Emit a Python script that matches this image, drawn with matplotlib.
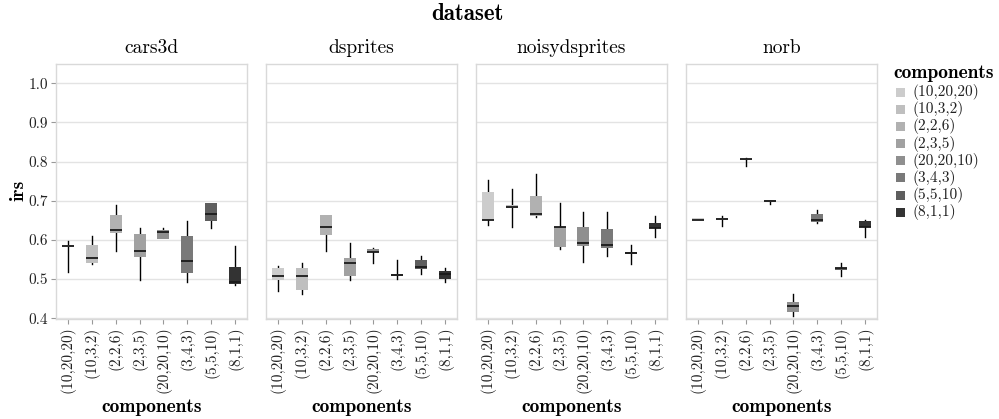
import matplotlib
matplotlib.use("Agg")
import matplotlib.pyplot as plt
from matplotlib.ticker import FormatStrFormatter

# ---------------- data ----------------
datasets = ["cars3d", "dsprites", "noisydsprites", "norb"]
components = ["(10,20,20)", "(10,3,2)", "(2,2,6)", "(2,3,5)",
              "(20,20,10)", "(3,4,3)", "(5,5,10)", "(8,1,1)"]
y_ticks = [0.4, 0.5, 0.6, 0.7, 0.8, 0.9, 1.0]

# (whisker low, q1, median, q3, whisker high) per component
cars3d_stats = [
    (0.518, 0.582, 0.584, 0.586, 0.598),
    (0.538, 0.541, 0.554, 0.586, 0.611),
    (0.571, 0.617, 0.626, 0.663, 0.689),
    (0.497, 0.556, 0.572, 0.614, 0.631),
    (0.601, 0.601, 0.621, 0.626, 0.631),
    (0.493, 0.515, 0.545, 0.611, 0.647),
    (0.630, 0.648, 0.665, 0.693, 0.693),
    (0.484, 0.487, 0.493, 0.532, 0.584),
]
dsprites_stats = [
    (0.469, 0.497, 0.508, 0.529, 0.534),
    (0.461, 0.472, 0.508, 0.527, 0.542),
    (0.571, 0.612, 0.633, 0.663, 0.664),
    (0.497, 0.507, 0.542, 0.553, 0.593),
    (0.541, 0.569, 0.570, 0.576, 0.580),
    (0.501, 0.508, 0.511, 0.514, 0.548),
    (0.513, 0.525, 0.531, 0.548, 0.560),
    (0.492, 0.500, 0.514, 0.520, 0.527),
]
noisydsprites_stats = [
    (0.638, 0.651, 0.651, 0.721, 0.753),
    (0.632, 0.681, 0.685, 0.690, 0.731),
    (0.658, 0.660, 0.666, 0.713, 0.768),
    (0.576, 0.581, 0.634, 0.634, 0.693),
    (0.543, 0.584, 0.591, 0.634, 0.671),
    (0.559, 0.579, 0.588, 0.629, 0.670),
    (0.539, 0.564, 0.567, 0.570, 0.588),
    (0.607, 0.630, 0.631, 0.642, 0.660),
]
norb_stats = [
    (0.651, 0.651, 0.651, 0.656, 0.656),
    (0.635, 0.652, 0.654, 0.656, 0.660),
    (0.789, 0.804, 0.806, 0.807, 0.809),
    (0.691, 0.697, 0.699, 0.701, 0.702),
    (0.406, 0.416, 0.431, 0.441, 0.463),
    (0.642, 0.645, 0.651, 0.665, 0.676),
    (0.508, 0.524, 0.527, 0.529, 0.542),
    (0.607, 0.633, 0.633, 0.649, 0.652),
]
all_stats = [cars3d_stats, dsprites_stats, noisydsprites_stats, norb_stats]

# ---------------- style ----------------
gamma = 2.2
s, e = 0.8 ** gamma, 0.2 ** gamma
greys = []
for i in range(len(components)):
    v = (s + (e - s) * i / (len(components) - 1)) ** (1 / gamma)
    greys.append((v, v, v))

REG = "cmr10"
BOLD = "cmb10"
plt.rcParams["axes.formatter.use_mathtext"] = True
plt.rcParams["font.family"] = REG

TICK_FS = 11
BOLD_FS = 14
TITLE_FS = 16.5

W, H = 999, 419
fig = plt.figure(figsize=(W / 100, H / 100), dpi=100)
fig.patch.set_facecolor("white")

panel_left = [56, 266, 476, 686]
panel_w = 191
panel_top = 64
panel_bottom = 319

border_col = "#d9d9d9"
grid_col = "#e3e3e3"
tick_col = "#999999"
text_col = "#222222"

positions = list(range(len(components)))
for k, (name, stats) in enumerate(zip(datasets, all_stats)):
    ax = fig.add_axes([panel_left[k] / W, (H - panel_bottom) / H,
                       panel_w / W, (panel_bottom - panel_top) / H])
    ax.set_facecolor("white")
    bstats = []
    for lo, q1, med, q3, hi in stats:
        bstats.append(dict(whislo=lo, q1=q1, med=med, q3=q3, whishi=hi, fliers=[]))
    bp = ax.bxp(bstats, positions=positions, widths=0.5, patch_artist=True,
                showfliers=False, showcaps=False,
                boxprops=dict(linewidth=0),
                medianprops=dict(color="#1a1a1a", linewidth=1.3, solid_capstyle="butt"),
                whiskerprops=dict(color="black", linewidth=1.0))
    for patch, c in zip(bp["boxes"], greys):
        patch.set_facecolor(c)
        patch.set_edgecolor(c)
        patch.set_zorder(3)
    for m in bp["medians"]:
        m.set_zorder(4)
    for wk in bp["whiskers"]:
        wk.set_zorder(2)

    ax.set_xlim(-0.49, len(components) - 1 + 0.49)
    ax.set_ylim(0.398, 1.049)
    ax.set_yticks(y_ticks)
    ax.yaxis.set_major_formatter(FormatStrFormatter("%.1f"))
    ax.grid(axis="y", color=grid_col, linewidth=1.0, zorder=0)
    ax.set_axisbelow(True)
    for sp in ax.spines.values():
        sp.set_color(border_col)
        sp.set_linewidth(1.0)
    ax.set_xticks(positions)
    ax.set_xticklabels(components, rotation=90, fontsize=TICK_FS, color=text_col,
                       fontfamily=REG)
    ax.tick_params(axis="x", length=3.5, width=0.8, color=tick_col, pad=2)
    if k == 0:
        ax.tick_params(axis="y", length=3.5, width=0.8, color=tick_col, pad=2,
                       labelsize=TICK_FS, labelcolor=text_col)
        for lab in ax.get_yticklabels():
            lab.set_fontfamily(REG)
    else:
        ax.tick_params(axis="y", length=0, labelleft=False)
    ax.set_title(name, fontsize=14, fontfamily=REG, color="black", pad=8)
    ax.set_xlabel("components", fontsize=BOLD_FS, fontfamily=BOLD, color="black",
                  labelpad=3)

fig.text(19 / W, 1 - 190 / H, "irs", rotation=90, fontsize=BOLD_FS, fontfamily=BOLD,
         ha="center", va="center")
fig.text(467 / W, 1 - 14 / H, "dataset", fontsize=TITLE_FS, fontfamily=BOLD,
         ha="center", va="center")

# legend
fig.text(893 / W, 1 - 73 / H, "components", fontsize=BOLD_FS, fontfamily=BOLD,
         ha="left", va="center")
for i, (lab, c) in enumerate(zip(components, greys)):
    yc = 92 + i * 17.2
    fig.patches.append(plt.Rectangle((896 / W, 1 - (yc + 4.5) / H), 9 / W, 9 / H,
                                     transform=fig.transFigure, facecolor=c,
                                     edgecolor="none"))
    fig.text(912 / W, 1 - yc / H, lab, fontsize=TICK_FS, fontfamily=REG,
             ha="left", va="center", color=text_col)

fig.savefig("out.png", dpi=100, facecolor="white")
